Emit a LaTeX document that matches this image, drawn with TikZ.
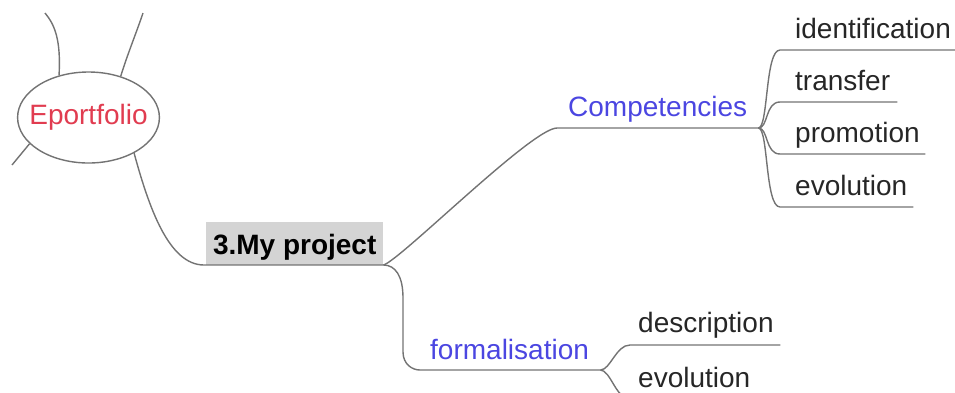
\documentclass[tikz,border=0pt]{standalone}
\usepackage{fontspec}
\setmainfont{Liberation Sans}
\usetikzlibrary{shapes.geometric,calc}
\definecolor{linegray}{RGB}{115,115,115}
\definecolor{topicblue}{RGB}{75,70,225}
\definecolor{rootred}{RGB}{225,60,80}
\definecolor{boxgray}{RGB}{212,212,212}
\begin{document}
\begin{tikzpicture}[x=1pt,y=-1pt,
  conn/.style={draw=linegray,line width=1.4pt},
  txt/.style={font=\fontsize{28}{30}\selectfont},
  leaf/.style={txt,anchor=south west,inner sep=0pt,text depth=11pt,align=left,text=black!85},
  topic/.style={leaf,text=topicblue},
  rootnode/.style={ellipse,draw=linegray,line width=1.4pt,fill=white,inner xsep=-9pt,inner ysep=0pt,minimum height=91pt,txt,text=rootred},
  projbox/.style={txt,font=\fontsize{28}{30}\selectfont\bfseries,fill=boxgray,anchor=south west,inner sep=0pt,minimum width=177pt,text height=33pt,text depth=10pt}
]
\useasboundingbox (0,0) rectangle (955,392);

% root
\node[rootnode] (eport) at (88.5,117.5) {Eportfolio};
\coordinate (e1) at (45,13);
\coordinate (e2) at (143,13);
\coordinate (e3) at (12,165);
\draw[conn] (eport.125) .. controls +(2,-35) and +(10,12) .. (e1);
\draw[conn] (eport.52) .. controls +(6,-20) and +(-6,18) .. (e2);
\draw[conn] (eport.204) -- (e3);

% project
\node[projbox] (proj) at (206,265) {3.My project};
\draw[conn] (eport.322) .. controls +(15,55) and +(-35,0) .. ($(proj.south west)+(-2,0)$) -- (proj.south east);

% competencies
\node[topic,text width=201pt] (comp) at (557,128) {\hspace*{11pt}Competencies};
\draw[conn] (proj.south east) .. controls +(16,-4) and +(-25,0) .. (comp.south west) -- (comp.south east);

\node[leaf,text width=175pt] (ident) at (780,50) {\hspace*{15pt}identification};
\node[leaf,text width=117pt] (trans) at (780,102) {\hspace*{15pt}transfer};
\node[leaf,text width=145pt] (promo) at (780,154) {\hspace*{15pt}promotion};
\node[leaf,text width=133pt] (evol) at (780,207) {\hspace*{15pt}evolution};
\foreach \n in {ident,trans,promo,evol}{
  \draw[conn] (comp.south east) .. controls +(10,0) and +(-15,0) .. (\n.south west) -- (\n.south east);
}

% formalisation
\node[topic,text width=180pt,text depth=10pt] (form) at (420,370) {\hspace*{10pt}formalisation};
\draw[conn] (proj.south east) .. controls +(12,0) and +(0,-22) .. ($(form.south west)+(-17,-72)$)
  -- ($(form.south west)+(-17,-18)$) .. controls +(0,12) and +(-8,0) .. (form.south west) -- (form.south east);

\node[leaf,text width=150pt,text depth=12pt] (desc) at (630,345) {\hspace*{8pt}description};
\node[leaf,text width=150pt,text depth=11pt] (evol2) at (630,399) {\hspace*{8pt}evolution};
\foreach \n in {desc,evol2}{
  \draw[conn] (form.south east) .. controls +(10,0) and +(-14,0) .. (\n.south west) -- (\n.south east);
}
\end{tikzpicture}
\end{document}
